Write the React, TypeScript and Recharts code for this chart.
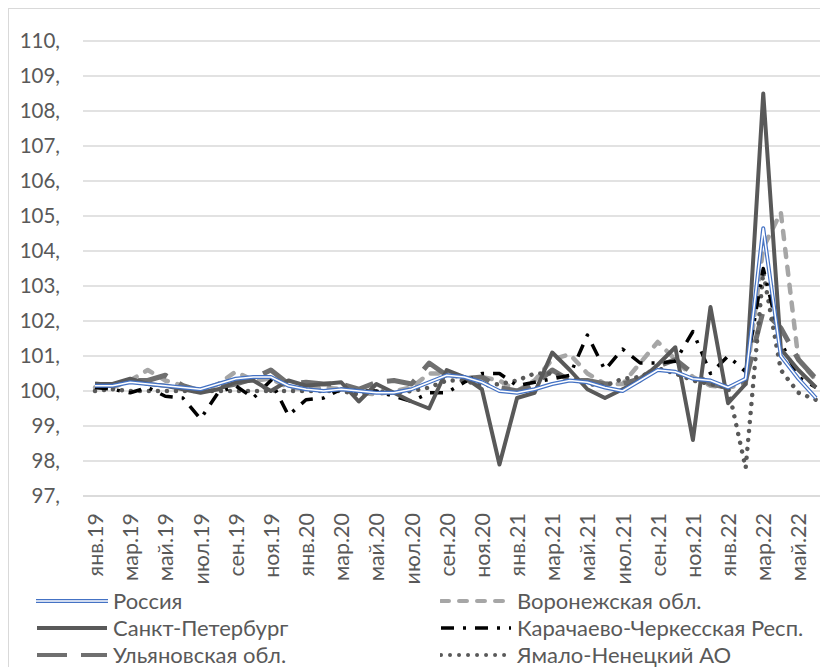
import React from 'react';
import { LineChart, Line, XAxis, YAxis, CartesianGrid } from 'recharts';

const months = [
  'янв.19', 'фев.19', 'мар.19', 'апр.19', 'май.19', 'июн.19', 'июл.19', 'авг.19', 'сен.19', 'окт.19', 'ноя.19', 'дек.19',
  'янв.20', 'фев.20', 'мар.20', 'апр.20', 'май.20', 'июн.20', 'июл.20', 'авг.20', 'сен.20', 'окт.20', 'ноя.20', 'дек.20',
  'янв.21', 'фев.21', 'мар.21', 'апр.21', 'май.21', 'июн.21', 'июл.21', 'авг.21', 'сен.21', 'окт.21', 'ноя.21', 'дек.21',
  'янв.22', 'фев.22', 'мар.22', 'апр.22', 'май.22', 'июн.22',
];

const russia = [
  100.15, 100.15, 100.25, 100.2, 100.15, 100.1, 100.05, 100.2, 100.35, 100.4, 100.4, 100.15,
  100.05, 100.0, 100.05, 100.0, 99.95, 99.95, 100.05, 100.25, 100.45, 100.4, 100.25, 100.0,
  99.95, 100.05, 100.2, 100.3, 100.25, 100.1, 100.0, 100.3, 100.6, 100.55, 100.35, 100.3,
  100.1, 100.35, 104.65, 101.0, 100.35, 99.8,
];
const voronezh = [
  100.1, 100.1, 100.3, 100.6, 100.3, 100.15, 100.0, 100.2, 100.55, 100.3, 100.35, 100.1,
  100.05, 100.1, 100.05, 99.95, 99.9, 100.0, 100.1, 100.5, 100.5, 100.35, 100.4, 100.3,
  100.0, 100.3, 100.9, 101.05, 100.5, 100.2, 100.2, 100.8, 101.4, 100.9, 100.4, 100.15,
  100.1, 100.2, 104.1, 105.1, 100.9, 100.3,
];
const spb = [
  100.2, 100.2, 100.35, 100.2, 100.15, 100.05, 99.95, 100.05, 100.25, 100.3, 100.0, 100.3,
  100.15, 100.2, 100.25, 99.7, 100.2, 99.95, 99.7, 99.5, 100.6, 100.4, 100.05, 97.9,
  99.8, 99.95, 101.1, 100.6, 100.05, 99.8, 100.05, 100.3, 100.75, 101.25, 98.6, 102.4,
  99.65, 100.2, 108.5, 101.2, 100.6, 100.1,
];
const karachay = [
  100.1, 100.05, 99.95, 100.1, 99.85, 99.8, 99.2, 99.95, 100.15, 99.8, 100.3, 99.3,
  99.75, 99.8, 100.05, 100.0, 100.0, 99.85, 99.7, 99.95, 99.95, 100.25, 100.5, 100.5,
  100.15, 100.25, 100.35, 100.45, 101.6, 100.6, 101.2, 100.8, 100.8, 100.85, 101.7, 100.5,
  101.0, 100.55, 103.5, 101.4, 100.4, 100.1,
];
const ulyanovsk = [
  100.2, 100.15, 100.3, 100.3, 100.45, 100.15, 100.0, 100.1, 100.2, 100.35, 100.6, 100.2,
  100.25, 100.2, 100.2, 100.05, 100.25, 100.3, 100.2, 100.8, 100.45, 100.35, 100.4, 100.1,
  100.0, 100.2, 100.6, 100.3, 100.3, 100.2, 100.2, 100.35, 100.7, 100.9, 100.5, 100.2,
  100.1, 100.3, 102.3, 101.8, 100.9, 100.35,
];
const yamal = [
  100.0, 100.05, 100.0, 100.0, 100.0, 100.0, 100.0, 100.0, 100.0, 100.0, 100.0, 100.0,
  100.0, 100.0, 100.0, 99.9, 100.0, 99.95, 100.0, 100.1, 100.3, 100.3, 100.15, 100.2,
  100.3, 100.5, 100.5, 100.35, 100.2, 100.15, 100.35, 100.4, 100.65, 100.5, 100.3, 100.2,
  100.1, 97.8, 103.4, 100.6, 99.95, 99.75,
];

const yTicks = [97, 98, 99, 100, 101, 102, 103, 104, 105, 106, 107, 108, 109, 110];

const data = months.map((m, i) => ({
  month: m,
  russia: russia[i],
  voronezh: voronezh[i],
  spb: spb[i],
  karachay: karachay[i],
  ulyanovsk: ulyanovsk[i],
  yamal: yamal[i],
}));

const FONT = 'Lato, "Open Sans", sans-serif';
const TEXT = '#595959';

// стили серий (повторяются в легенде)
const styles: Record<string, any> = {
  voronezh: { stroke: '#a6a6a6', strokeWidth: 4.5, strokeDasharray: '8 10', strokeLinecap: 'round' },
  spb: { stroke: '#595959', strokeWidth: 4 },
  karachay: { stroke: '#000000', strokeWidth: 3.5, strokeDasharray: '13 9 3 9' },
  ulyanovsk: { stroke: '#6f6f6f', strokeWidth: 5, strokeDasharray: '30 14' },
  yamal: { stroke: '#595959', strokeWidth: 4.5, strokeDasharray: '0.01 9', strokeLinecap: 'round' },
};

const legendLeft = [
  { key: 'russia', name: 'Россия' },
  { key: 'spb', name: 'Санкт-Петербург' },
  { key: 'ulyanovsk', name: 'Ульяновская обл.' },
];
const legendRight = [
  { key: 'voronezh', name: 'Воронежская обл.' },
  { key: 'karachay', name: 'Карачаево-Черкесская Респ.' },
  { key: 'yamal', name: 'Ямало-Ненецкий АО' },
];

const MonthTick = ({ x, y, payload }: any) => (
  <text
    x={x}
    y={y}
    transform={`rotate(-90, ${x}, ${y})`}
    textAnchor="end"
    dominantBaseline="central"
    fill={TEXT}
    fontSize={21.5}
    fontFamily={FONT}
  >
    {payload.value}
  </text>
);

const LegendIcon = ({ k }: { k: string }) => (
  <svg width={72} height={12} style={{ display: 'block' }}>
    {k === 'russia' ? (
      <>
        <line x1={0} y1={6} x2={72} y2={6} stroke="#4472c4" strokeWidth={4} />
        <line x1={0} y1={6} x2={72} y2={6} stroke="#ffffff" strokeWidth={1.6} />
      </>
    ) : (
      <line x1={1} y1={6} x2={71} y2={6} {...styles[k]} strokeWidth={Math.min(styles[k].strokeWidth, 4)} />
    )}
  </svg>
);

const LegendCol = ({ items, left }: { items: { key: string; name: string }[]; left: number }) => (
  <div style={{ position: 'absolute', left, top: 578 }}>
    {items.map((it) => (
      <div key={it.key} style={{ display: 'flex', alignItems: 'center', height: 27 }}>
        <LegendIcon k={it.key} />
        <span style={{ marginLeft: 5, fontSize: 22, lineHeight: '27px', color: TEXT, fontFamily: FONT, whiteSpace: 'nowrap' }}>
          {it.name}
        </span>
      </div>
    ))}
  </div>
);

export default function App() {
  return (
    <div style={{ position: 'fixed', left: 8, top: 8, width: 812, height: 659, overflow: 'hidden', background: '#fff' }}>
      <div style={{ position: 'relative', width: 830, height: 680, border: '1px solid #d9d9d9', boxSizing: 'border-box' }}>
        <LineChart
          width={828}
          height={577}
          data={data}
          margin={{ top: 32, right: 9, bottom: 0, left: 0 }}
          style={{ fontFamily: FONT }}
        >
          <CartesianGrid vertical={false} stroke="#d9d9d9" strokeWidth={1.3} />
          <XAxis
            dataKey="month"
            interval={1}
            height={90}
            padding={{ left: 12, right: 12 }}
            tickSize={6}
            tickMargin={11}
            tickLine={false}
            axisLine={{ stroke: '#d9d9d9', strokeWidth: 1.3 }}
            tick={<MonthTick />}
          />
          <YAxis
            domain={[97, 110]}
            ticks={yTicks}
            width={74}
            axisLine={false}
            tickLine={false}
            tickSize={6}
            tickMargin={17}
            tickFormatter={(v: number) => `${v},`}
            tick={{ fill: TEXT, fontSize: 20.5, fontFamily: FONT }}
          />
          <Line dataKey="voronezh" type="linear" dot={false} activeDot={false} isAnimationActive={false} strokeLinejoin="round" {...styles.voronezh} />
          <Line dataKey="ulyanovsk" type="linear" dot={false} activeDot={false} isAnimationActive={false} strokeLinejoin="round" {...styles.ulyanovsk} />
          <Line dataKey="yamal" type="linear" dot={false} activeDot={false} isAnimationActive={false} strokeLinejoin="round" {...styles.yamal} />
          <Line dataKey="karachay" type="linear" dot={false} activeDot={false} isAnimationActive={false} strokeLinejoin="round" {...styles.karachay} />
          <Line dataKey="spb" type="linear" dot={false} activeDot={false} isAnimationActive={false} strokeLinejoin="round" {...styles.spb} />
          <Line dataKey="russia" type="linear" dot={false} activeDot={false} isAnimationActive={false} stroke="#4472c4" strokeWidth={4} strokeLinejoin="round" />
          <Line dataKey="russia" type="linear" dot={false} activeDot={false} isAnimationActive={false} stroke="#ffffff" strokeWidth={1.6} strokeLinejoin="round" legendType="none" />
        </LineChart>
        <LegendCol items={legendLeft} left={27} />
        <LegendCol items={legendRight} left={431} />
      </div>
    </div>
  );
}
